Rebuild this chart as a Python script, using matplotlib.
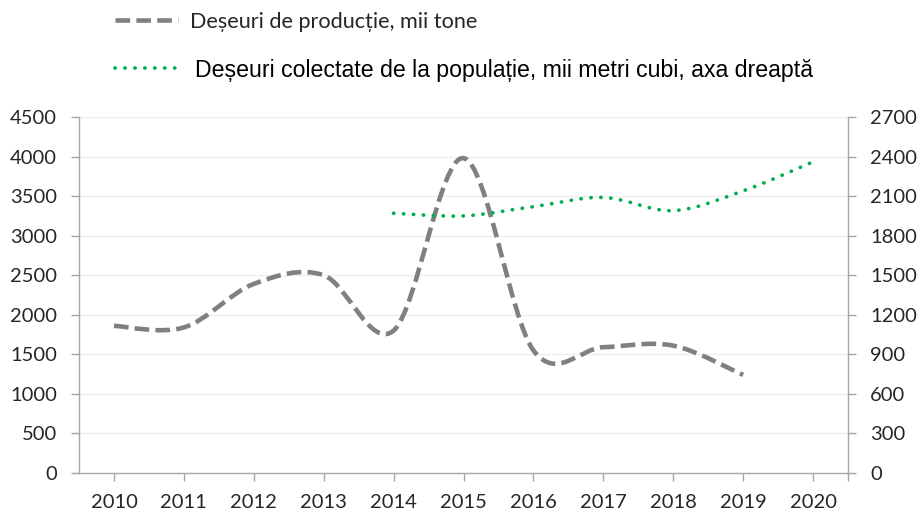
import matplotlib
matplotlib.use("Agg")
import matplotlib.pyplot as plt
from matplotlib.path import Path
from matplotlib.patches import PathPatch
from matplotlib.lines import Line2D

years = [2010, 2011, 2012, 2013, 2014, 2015, 2016, 2017, 2018, 2019, 2020]
prod_years = [2010, 2011, 2012, 2013, 2014, 2015, 2016, 2017, 2018, 2019]
prod_values = [1860, 1840, 2390, 2500, 1800, 3980, 1550, 1590, 1610, 1240]
pop_years = [2014, 2015, 2016, 2017, 2018, 2019, 2020]
pop_values = [1970, 1950, 2020, 2090, 1990, 2140, 2360]
left_ticks = [0, 500, 1000, 1500, 2000, 2500, 3000, 3500, 4000, 4500]
right_ticks = [0, 300, 600, 900, 1200, 1500, 1800, 2100, 2400, 2700]
label_prod = "Deșeuri de producție, mii tone"
label_pop = "Deșeuri colectate de la populație, mii metri cubi, axa dreaptă"

GRAY = "#808080"
GREEN = "#00B050"
AXC = "#A6A6A6"
TXT = "#262626"
TICKFONT = "Lato"
DASH = (0, (3.2, 1.35))
DOT = (0, (0.05, 2.6))


def smooth_path(xs, ys):
    """Excel-like smoothed line as cubic Bezier path (Catmull-Rom control points)."""
    n = len(xs)
    verts = [(xs[0], ys[0])]
    codes = [Path.MOVETO]
    for i in range(n - 1):
        x0, y0 = (xs[i - 1], ys[i - 1]) if i > 0 else (xs[i], ys[i])
        x1, y1 = xs[i], ys[i]
        x2, y2 = xs[i + 1], ys[i + 1]
        x3, y3 = (xs[i + 2], ys[i + 2]) if i + 2 < n else (x2, y2)
        c1 = (x1 + (x2 - x0) / 6.0, y1 + (y2 - y0) / 6.0)
        c2 = (x2 - (x3 - x1) / 6.0, y2 - (y3 - y1) / 6.0)
        verts += [c1, c2, (x2, y2)]
        codes += [Path.CURVE4] * 3
    return Path(verts, codes)


fig = plt.figure(figsize=(9.22, 5.17), dpi=100)
ax = fig.add_axes([79 / 922, 1 - 473 / 517, (848 - 79) / 922, (473 - 117) / 517])
ax2 = ax.twinx()

ax.set_xlim(2009.5, 2020.5)
ax.set_ylim(0, 4500)
ax2.set_ylim(0, 2700)

for t in left_ticks[1:]:
    ax.axhline(t, color="#EEEEEE", lw=1.0, zorder=0)

p1 = PathPatch(smooth_path(prod_years, prod_values), fill=False, edgecolor=GRAY,
               lw=3.3, linestyle=DASH, capstyle="butt", zorder=3)
ax.add_patch(p1)
p2 = PathPatch(smooth_path(pop_years, pop_values), fill=False, edgecolor=GREEN,
               lw=2.7, linestyle=DOT, capstyle="round", zorder=3)
ax2.add_patch(p2)

ax.set_xticks(years)
ax.set_xticklabels([str(y) for y in years])
ax.set_xticks([2020.5], minor=True)
ax.set_yticks(left_ticks)
ax2.set_yticks(right_ticks)

for a in (ax, ax2):
    for s in a.spines.values():
        s.set_color(AXC)
        s.set_linewidth(1.0)
    a.spines["top"].set_visible(False)
ax.spines["right"].set_visible(False)
ax2.spines["left"].set_visible(False)
ax2.spines["bottom"].set_visible(False)

TL = 5.8
ax.tick_params(axis="x", which="both", direction="out", length=TL, color=AXC, width=1,
               labelsize=14.5, pad=9, labelcolor=TXT)
ax.tick_params(axis="y", direction="out", length=TL, color=AXC, width=1,
               labelsize=14.5, pad=10, labelcolor=TXT)
ax2.tick_params(axis="y", direction="out", length=TL, color=AXC, width=1,
                labelsize=14.5, pad=10, labelcolor=TXT)
for lab in ax.get_xticklabels() + ax.get_yticklabels() + ax2.get_yticklabels():
    lab.set_fontfamily(TICKFONT)

# Legend
fs1 = 15.6
fs2 = 16.7
h1 = Line2D([], [], color=GRAY, lw=3.3, linestyle=DASH)
h2 = Line2D([], [], color=GREEN, lw=2.7, linestyle=DOT, dash_capstyle="round")
leg1 = fig.legend([h1], [label_prod], loc="center left",
                  bbox_to_anchor=(115 / 922, 1 - 22 / 517), frameon=False,
                  prop={"family": TICKFONT, "size": fs1},
                  handlelength=63 / (fs1 * 100 / 72), handletextpad=12 / (fs1 * 100 / 72),
                  borderpad=0, borderaxespad=0)
for t in leg1.get_texts():
    t.set_color(TXT)
leg2 = fig.legend([h2], [label_pop], loc="center left",
                  bbox_to_anchor=(115 / 922, 1 - 70 / 517), frameon=False,
                  prop={"family": "Liberation Sans", "size": fs2},
                  handlelength=62 / (fs2 * 100 / 72), handletextpad=18 / (fs2 * 100 / 72),
                  borderpad=0, borderaxespad=0)
for t in leg2.get_texts():
    t.set_color("#000000")

fig.savefig("out.png", dpi=100)
